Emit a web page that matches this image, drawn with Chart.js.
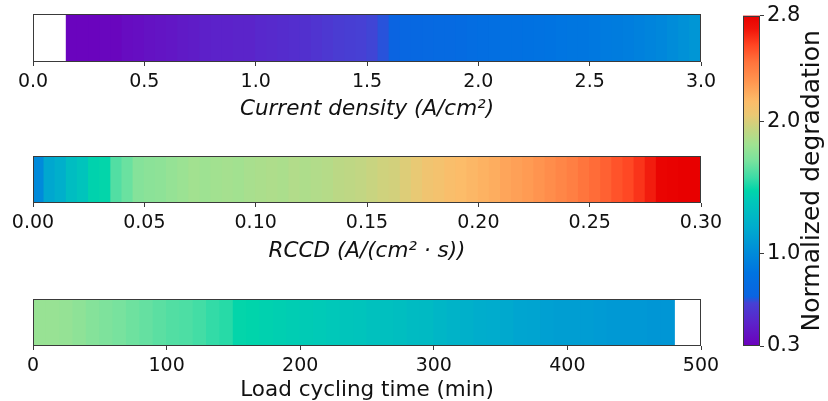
<!DOCTYPE html>
<html>
<head>
<meta charset="utf-8">
<script src="https://cdn.jsdelivr.net/npm/chart.js@4.4.0/dist/chart.umd.min.js"></script>
<style>
  html, body { margin: 0; padding: 0; background: #fff; }
  body { width: 828px; height: 401px; position: relative; overflow: hidden; }
  .box { position: absolute; }
</style>
</head>
<body>
<div class="box" style="left:0;top:0;width:740px;height:122px"><canvas id="cdChart"></canvas></div>
<div class="box" style="left:0;top:142px;width:740px;height:122px"><canvas id="rccdChart"></canvas></div>
<div class="box" style="left:0;top:285px;width:740px;height:118px"><canvas id="timeChart"></canvas></div>
<div class="box" style="left:700px;top:0;width:128px;height:401px"><canvas id="cbarChart"></canvas></div>

<script>
  // Band edges (x axis units) and normalized degradation of each band.
  const cdEdges = [0.15, 0.20, 0.25, 0.30, 0.35, 0.40, 0.45, 0.50, 0.55, 0.60, 0.65, 0.70, 0.75, 0.80,
    0.85, 0.90, 0.95, 1.00, 1.05, 1.10, 1.15, 1.20, 1.25, 1.30, 1.35, 1.40, 1.45, 1.50, 1.55, 1.60,
    1.65, 1.70, 1.75, 1.80, 1.85, 1.90, 1.95, 2.00, 2.05, 2.10, 2.15, 2.20, 2.25, 2.30, 2.35, 2.40,
    2.45, 2.50, 2.55, 2.60, 2.65, 2.70, 2.75, 2.80, 2.85, 2.90, 2.95, 3.00];
  const cdDegradation = [0.32, 0.32, 0.32, 0.33, 0.33, 0.36, 0.37, 0.39, 0.40, 0.41,
    0.43, 0.44, 0.46, 0.47, 0.47, 0.48, 0.48, 0.50, 0.51, 0.52,
    0.53, 0.54, 0.56, 0.58, 0.60, 0.61, 0.62, 0.63, 0.65, 0.68,
    0.71, 0.72, 0.73, 0.74, 0.75, 0.76, 0.78, 0.79, 0.80, 0.81,
    0.82, 0.83, 0.84, 0.85, 0.86, 0.87, 0.87, 0.88, 0.90, 0.91,
    0.92, 0.94, 0.96, 0.98, 1.01, 1.04, 1.07];

  const rccdEdges = [0.000, 0.005, 0.010, 0.015, 0.020, 0.025, 0.030, 0.035, 0.040, 0.045,
    0.050, 0.055, 0.060, 0.065, 0.070, 0.075, 0.080, 0.085, 0.090, 0.095,
    0.100, 0.105, 0.110, 0.115, 0.120, 0.125, 0.130, 0.135, 0.140, 0.145,
    0.150, 0.155, 0.160, 0.165, 0.170, 0.175, 0.180, 0.185, 0.190, 0.195,
    0.200, 0.205, 0.210, 0.215, 0.220, 0.225, 0.230, 0.235, 0.240, 0.245,
    0.250, 0.255, 0.260, 0.265, 0.270, 0.275, 0.280, 0.285, 0.290, 0.295, 0.300];
  const rccdDegradation = [1.00, 1.17, 1.22, 1.32, 1.37, 1.46, 1.48, 1.62, 1.67, 1.74,
    1.76, 1.77, 1.79, 1.81, 1.83, 1.82, 1.83, 1.84, 1.83, 1.85,
    1.86, 1.87, 1.86, 1.88, 1.87, 1.88, 1.89, 1.91, 1.92, 1.93,
    1.95, 1.97, 1.98, 2.01, 2.04, 2.08, 2.10, 2.13, 2.15, 2.17,
    2.19, 2.21, 2.24, 2.26, 2.28, 2.31, 2.34, 2.37, 2.40, 2.44,
    2.47, 2.50, 2.54, 2.57, 2.62, 2.68, 2.78, 2.79, 2.80, 2.80];

  const timeEdges = [0, 10, 20, 30, 40, 50, 60, 70, 80, 90, 100, 110, 120, 130, 140, 150, 160,
    170, 180, 190, 200, 210, 220, 230, 240, 250, 260, 270, 280, 290, 300, 310, 320, 330,
    340, 350, 360, 370, 380, 390, 400, 410, 420, 430, 440, 450, 460, 470, 480];
  const timeDegradation = [1.80, 1.80, 1.79, 1.77, 1.74, 1.72, 1.70, 1.68, 1.66, 1.64,
    1.62, 1.61, 1.59, 1.56, 1.54, 1.48, 1.47, 1.45, 1.44, 1.43,
    1.42, 1.41, 1.40, 1.38, 1.37, 1.35, 1.34, 1.33, 1.31, 1.30,
    1.27, 1.25, 1.23, 1.21, 1.20, 1.18, 1.16, 1.15, 1.13, 1.12,
    1.12, 1.11, 1.10, 1.09, 1.08, 1.08, 1.07, 1.07];

  const cdTicks = [0, 0.5, 1, 1.5, 2, 2.5, 3];
  const rccdTicks = [0, 0.05, 0.1, 0.15, 0.2, 0.25, 0.3];
  const timeTicks = [0, 100, 200, 300, 400, 500];
  const cbarTicks = [0.3, 1.0, 2.0, 2.8];
  const cbarMin = 0.3;
  const cbarMax = 2.8;

  // colormap: [fraction from bottom, rgb]
  const cmapStops = [
    [0.00, [108, 0, 188]], [0.07, [92, 35, 202]], [0.13, [70, 65, 212]], [0.15, [10, 100, 225]],
    [0.22, [0, 115, 225]], [0.28, [0, 138, 218]], [0.36, [0, 172, 205]], [0.44, [0, 200, 185]],
    [0.47, [0, 213, 170]], [0.51, [60, 220, 166]], [0.56, [120, 226, 158]], [0.61, [160, 226, 145]],
    [0.66, [200, 212, 128]], [0.70, [235, 200, 115]], [0.74, [252, 188, 105]], [0.80, [255, 150, 80]],
    [0.86, [255, 115, 60]], [0.91, [255, 70, 35]], [0.96, [240, 20, 10]], [1.00, [232, 0, 0]]
  ];

  const textColor = '#111';
  const edgeColor = '#3a3a3a';
  Chart.defaults.font.family = "'DejaVu Sans', sans-serif";

  function colorFor(v) {
    const t = Math.min(1, Math.max(0, (v - cbarMin) / (cbarMax - cbarMin)));
    for (let i = 1; i < cmapStops.length; i++) {
      const [t0, c0] = cmapStops[i - 1];
      const [t1, c1] = cmapStops[i];
      if (t <= t1) {
        const f = (t - t0) / (t1 - t0);
        return 'rgb(' + c0.map((c, k) => Math.round(c + (c1[k] - c) * f)).join(',') + ')';
      }
    }
    return 'rgb(' + cmapStops[cmapStops.length - 1][1].join(',') + ')';
  }

  // Box around each plot area.
  const framePlugin = {
    id: 'frame',
    afterDatasetsDraw(chart) {
      const { ctx, chartArea: a } = chart;
      ctx.save();
      ctx.strokeStyle = edgeColor;
      ctx.lineWidth = 1;
      ctx.strokeRect(Math.round(a.left) + 0.5, Math.round(a.top) + 0.5,
        Math.round(a.right - a.left) - 1, Math.round(a.bottom - a.top) - 1);
      ctx.restore();
    }
  };

  function makeStrip(id, edges, values, ticks, digits, titleText, titleStyle, padTop, axisHeight, titlePad) {
    new Chart(document.getElementById(id), {
      type: 'bar',
      data: {
        labels: ['band'],
        datasets: [{
          data: values.map((v, i) => ({ x: [edges[i], edges[i + 1]], y: 'band' })),
          backgroundColor: values.map(colorFor),
          borderWidth: 0,
          inflateAmount: 0.6,
          barPercentage: 1,
          categoryPercentage: 1
        }]
      },
      options: {
        indexAxis: 'y',
        responsive: true,
        maintainAspectRatio: false,
        animation: false,
        layout: { padding: { left: 33, right: 39, top: padTop, bottom: 0 } },
        plugins: { legend: { display: false }, tooltip: { enabled: false } },
        scales: {
          y: { display: false },
          x: {
            type: 'linear',
            min: ticks[0],
            max: ticks[ticks.length - 1],
            afterBuildTicks: (s) => { s.ticks = ticks.map((v) => ({ value: v })); },
            afterFit: (s) => { s.height = axisHeight; },
            grid: { drawOnChartArea: false, tickLength: 4, color: edgeColor },
            border: { display: false },
            ticks: {
              font: { size: 19 }, color: textColor, padding: 5,
              maxRotation: 0, autoSkip: false,
              callback: (v) => Number(v).toFixed(digits)
            },
            title: {
              display: true, text: titleText, color: textColor,
              font: { size: 21.5, style: titleStyle },
              padding: { top: 0, bottom: titlePad }
            }
          }
        }
      },
      plugins: [framePlugin]
    });
  }

  makeStrip('cdChart', cdEdges, cdDegradation, cdTicks, 1, 'Current density (A/cm²)', 'italic', 14, 60, 0);
  makeStrip('rccdChart', rccdEdges, rccdDegradation, rccdTicks, 2, 'RCCD (A/(cm² · s))', 'italic', 14, 61, 0);
  makeStrip('timeChart', timeEdges, timeDegradation, timeTicks, 0, 'Load cycling time (min)', 'normal', 14, 57, 0);

  // Colour bar
  function gradientFill(c) {
    const a = c.chart.chartArea;
    if (!a) return null;
    const g = c.chart.ctx.createLinearGradient(0, a.bottom, 0, a.top);
    cmapStops.forEach(([t, rgb]) => g.addColorStop(t, 'rgb(' + rgb.join(',') + ')'));
    return g;
  }

  const cbarTitlePlugin = {
    id: 'cbarTitle',
    afterDraw(chart) {
      const { ctx, chartArea: a } = chart;
      ctx.save();
      ctx.translate(112, (a.top + a.bottom) / 2);
      ctx.rotate(-Math.PI / 2);
      ctx.font = "25px 'DejaVu Sans'";
      ctx.fillStyle = textColor;
      ctx.textAlign = 'center';
      ctx.textBaseline = 'middle';
      ctx.fillText('Normalized degradation', 0, 0);
      ctx.restore();
    }
  };

  new Chart(document.getElementById('cbarChart'), {
    type: 'bar',
    data: {
      labels: ['cbar'],
      datasets: [{
        data: [[cbarMin, cbarMax]],
        backgroundColor: gradientFill,
        borderWidth: 0,
        barPercentage: 1,
        categoryPercentage: 1
      }]
    },
    options: {
      responsive: true,
      maintainAspectRatio: false,
      animation: false,
      layout: { padding: { left: 43, right: 0, top: 14, bottom: 55 } },
      plugins: { legend: { display: false }, tooltip: { enabled: false } },
      scales: {
        x: { display: false },
        y: {
          type: 'linear',
          position: 'right',
          min: cbarMin,
          max: cbarMax,
          afterBuildTicks: (s) => { s.ticks = cbarTicks.map((v) => ({ value: v })); },
          afterFit: (s) => { s.width = 68; },
          grid: { drawOnChartArea: false, tickLength: 4, color: edgeColor },
          border: { display: false },
          ticks: { font: { size: 21 }, color: textColor, padding: 3, callback: (v) => Number(v).toFixed(1) }
        }
      }
    },
    plugins: [framePlugin, cbarTitlePlugin]
  });
</script>
</body>
</html>
